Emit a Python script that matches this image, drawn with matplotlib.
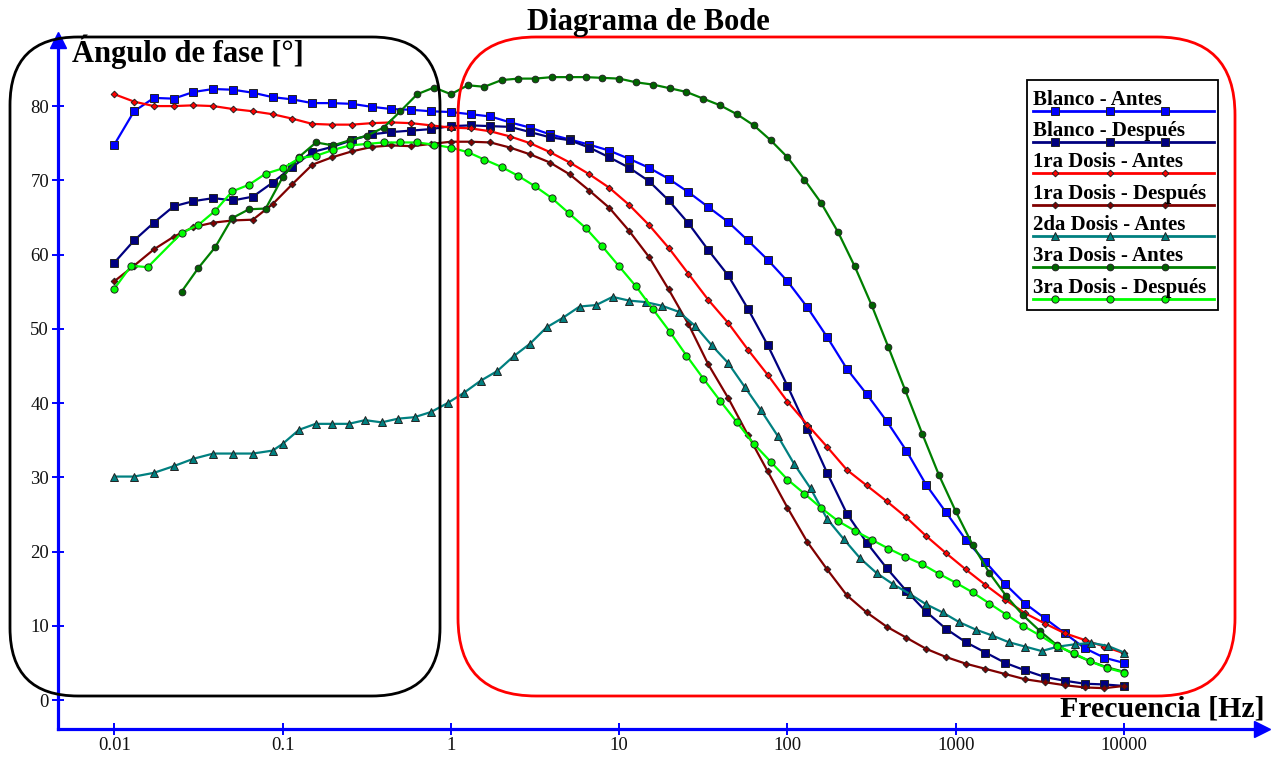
import matplotlib
matplotlib.use('Agg')
import matplotlib.pyplot as plt
from matplotlib.patches import FancyBboxPatch, Rectangle
from matplotlib.lines import Line2D
from matplotlib.ticker import NullLocator

plt.rcParams['font.family'] = ['Liberation Serif', 'DejaVu Serif']

# barridos de frecuencia [Hz]
FREQ_A = [0.01, 0.01311, 0.01719, 0.02254, 0.02955, 0.03875, 0.0508, 0.06661, 0.08733,
          0.1145, 0.1501, 0.1968, 0.2581, 0.3384, 0.4437, 0.5818, 0.7627,
          1.0, 1.311, 1.719, 2.254, 2.955, 3.875, 5.08, 6.661, 8.733,
          11.45, 15.01, 19.68, 25.81, 33.84, 44.37, 58.18, 76.27,
          100, 131.1, 171.9, 225.4, 295.5, 387.5, 508.0, 666.1, 873.3,
          1145, 1501, 1968, 2581, 3384, 4437, 5818, 7627, 10000]
FREQ_B = [0.01, 0.0126, 0.0158, 0.0200, 0.0251, 0.0316, 0.0398, 0.0501, 0.0631, 0.0794,
          0.1, 0.126, 0.158, 0.200, 0.251, 0.316, 0.398, 0.501, 0.631, 0.794,
          1, 1.26, 1.58, 2.00, 2.51, 3.16, 3.98, 5.01, 6.31, 7.94,
          10, 12.6, 15.8, 20.0, 25.1, 31.6, 39.8, 50.1, 63.1, 79.4,
          100, 126, 158, 200, 251, 316, 398, 501, 631, 794,
          1000, 1259, 1585, 1995, 2512, 3162, 3981, 5012, 6310, 7943,
          10000]
FREQ_C = [0.1, 0.1253, 0.1571, 0.1968, 0.2467, 0.3092, 0.3875, 0.4856, 0.6086, 0.7627,
          0.9559, 1.198, 1.501, 1.882, 2.358, 2.955, 3.704, 4.642, 5.818, 7.291,
          9.137, 11.45, 14.35, 17.99, 22.54, 28.25, 35.40, 44.37, 55.60, 69.69,
          87.33, 109.5, 137.2, 171.9, 215.4, 270.0, 338.4, 424.1, 531.5, 666.1,
          834.8, 1046, 1311, 1643, 2059, 2581, 3234, 4054, 5080, 6367,
          7979, 10000]

# angulo de fase [grados]
BLANCO_ANTES = [74.8, 79.3, 81.1, 81.0, 81.9, 82.3, 82.2, 81.8, 81.2, 80.9,
                80.4, 80.4, 80.3, 79.9, 79.6, 79.5, 79.3, 79.2, 78.9, 78.6,
                77.8, 77.1, 76.2, 75.5, 74.8, 74.0, 72.9, 71.7, 70.2, 68.4,
                66.4, 64.4, 61.9, 59.3, 56.4, 52.9, 48.9, 44.6, 41.2, 37.6,
                33.6, 29.0, 25.3, 21.6, 18.6, 15.6, 13.0, 11.0, 9.0, 7.0,
                5.7, 5.0]
BLANCO_DESPUES = [58.9, 61.9, 64.3, 66.5, 67.2, 67.6, 67.3, 67.8, 69.7, 71.8,
                  73.8, 74.5, 75.4, 76.2, 76.5, 76.7, 76.9, 77.3, 77.4, 77.3,
                  77.2, 76.5, 75.8, 75.4, 74.4, 73.1, 71.7, 69.9, 67.3, 64.2,
                  60.6, 57.2, 52.7, 47.8, 42.3, 36.5, 30.6, 25.1, 21.2, 17.8,
                  14.7, 11.9, 9.6, 7.8, 6.4, 5.0, 4.0, 3.1, 2.6, 2.2,
                  2.1, 1.9]
DOSIS1_ANTES = [81.6, 80.6, 80.0, 80.0, 80.1, 80.0, 79.6, 79.3, 78.9, 78.3,
                77.6, 77.5, 77.5, 77.7, 77.8, 77.7, 77.4, 77.1, 77.0, 76.6,
                75.9, 75.0, 73.8, 72.4, 70.8, 69.0, 66.7, 64.0, 60.9, 57.4,
                53.9, 50.8, 47.2, 43.8, 40.2, 37.1, 34.1, 31.0, 28.9, 26.8,
                24.6, 22.1, 19.8, 17.6, 15.5, 13.5, 11.7, 10.3, 9.0, 8.1,
                7.2, 6.3]
DOSIS1_DESPUES = [56.4, 58.5, 60.7, 62.4, 63.7, 64.3, 64.6, 64.7, 66.8, 69.5,
                  72.1, 73.1, 73.9, 74.5, 74.7, 74.6, 74.9, 75.2, 75.2, 75.1,
                  74.4, 73.5, 72.4, 70.8, 68.6, 66.3, 63.2, 59.7, 55.3, 50.6,
                  45.2, 40.7, 35.7, 30.8, 25.9, 21.3, 17.6, 14.1, 11.8, 9.9,
                  8.4, 6.9, 5.8, 4.9, 4.2, 3.5, 2.8, 2.4, 2.0, 1.7,
                  1.6, 1.9]
DOSIS2_ANTES = [30.1, 30.1, 30.6, 31.5, 32.5, 33.2, 33.2, 33.2, 33.6,
                34.5, 36.4, 37.2, 37.2, 37.2, 37.7, 37.4, 37.9, 38.1, 38.8,
                40.0, 41.4, 43.0, 44.3, 46.3, 48.0, 50.2, 51.5, 53.0, 53.2,
                54.3, 53.8, 53.6, 53.1, 52.3, 50.4, 47.8, 45.4, 42.2, 39.0,
                35.6, 31.8, 28.5, 24.4, 21.7, 19.1, 17.1, 15.6, 14.3, 12.9,
                11.8, 10.5, 9.5, 8.7, 7.8, 7.2, 6.6, 7.2, 7.5, 7.7,
                7.3, 6.4]
DOSIS3_ANTES = [55.0, 58.2, 61.0, 64.9, 66.1, 66.2, 70.4, 73.2, 75.1, 74.7,
                75.4, 76.0, 77.1, 79.3, 81.6, 82.5, 81.6, 82.8, 82.6, 83.5,
                83.7, 83.7, 83.9, 83.9, 83.9, 83.8, 83.7, 83.2, 82.9, 82.4,
                81.9, 81.0, 80.1, 78.9, 77.4, 75.4, 73.1, 70.1, 67.0, 63.0,
                58.4, 53.2, 47.5, 41.7, 35.9, 30.3, 25.4, 20.9, 17.1, 14.0,
                11.4, 9.3, 7.4, 6.2, 5.2, 4.4, 3.8]
DOSIS3_DESPUES = [55.4, 58.5, 58.3,
                  62.9, 64.0, 65.9, 68.5, 69.4, 70.9, 71.6, 73.0, 73.3, 74.1,
                  74.7, 74.9, 75.1, 75.1, 75.1, 74.8, 74.4, 73.8, 72.8, 71.8,
                  70.6, 69.2, 67.6, 65.6, 63.6, 61.1, 58.4, 55.7, 52.7, 49.6,
                  46.4, 43.3, 40.3, 37.4, 34.5, 32.1, 29.7, 27.8, 25.9, 24.1,
                  22.8, 21.6, 20.4, 19.3, 18.3, 17.0, 15.8, 14.5, 13.0, 11.5,
                  10.0, 8.7, 7.3, 6.3, 5.2, 4.3, 3.7]

X_TICKS = [0.01, 0.1, 1, 10, 100, 1000, 10000]
X_TICK_LABELS = ['0.01', '0.1', '1', '10', '100', '1000', '10000']
Y_TICKS = [0, 10, 20, 30, 40, 50, 60, 70, 80]

series = [
    ('Blanco - Antes', FREQ_A, BLANCO_ANTES, '#0000FF', 's', 5.2, '#0000FF'),
    ('Blanco - Después', FREQ_A, BLANCO_DESPUES, '#000080', 's', 5.2, '#000080'),
    ('1ra Dosis - Antes', FREQ_A, DOSIS1_ANTES, '#FF0000', 'D', 3.4, '#FF0000'),
    ('1ra Dosis - Después', FREQ_A, DOSIS1_DESPUES, '#800000', 'D', 3.4, '#800000'),
    ('2da Dosis - Antes', FREQ_A[:9] + FREQ_C, DOSIS2_ANTES, '#008080', '^', 5.2, '#008080'),
    ('3ra Dosis - Antes', FREQ_B[4:], DOSIS3_ANTES, '#008000', 'o', 4.8, '#006400'),
    ('3ra Dosis - Después', FREQ_B[:3] + FREQ_B[4:], DOSIS3_DESPUES, '#00FF00', 'o', 5.2, '#00FF00'),
]

W, H = 1273, 757
fig = plt.figure(figsize=(W / 100, H / 100), dpi=100)

def fx(px):
    return px / W

def fy(py):
    return 1 - py / H

ax = fig.add_axes([fx(58), fy(729), (1262 - 58) / W, (729 - 40) / H])

for label, f, v, c, m, ms, mfc in series:
    ax.plot(f, v, color=c, lw=1.6, marker=m, ms=ms, mfc=mfc,
            mec='#222222', mew=0.7, zorder=3)

ax.set_xscale('log')
ax.set_xlim(0.00463, 65970)
ax.set_ylim(-3.9, 88.9)
ax.set_xticks(X_TICKS)
ax.set_xticklabels(X_TICK_LABELS)
ax.xaxis.set_minor_locator(NullLocator())
ax.set_yticks(Y_TICKS)

for s in ['top', 'right']:
    ax.spines[s].set_visible(False)
for s in ['left', 'bottom']:
    ax.spines[s].set_color('blue')
    ax.spines[s].set_linewidth(2.3)
ax.tick_params(axis='both', direction='inout', length=8.5, width=1.4,
               color='blue', labelsize=13.5, labelcolor='#111111')
ax.tick_params(axis='y', pad=2.2)
ax.tick_params(axis='x', pad=1.2)
ax.patch.set_visible(False)

# flechas de los ejes
ax.plot([1], [0], marker='>', ms=11, color='blue', transform=ax.transAxes, clip_on=False)
ax.plot([0], [1], marker='^', ms=11, color='blue', transform=ax.transAxes, clip_on=False)

# recuadros redondeados
inch = fig.dpi_scale_trans
fig.add_artist(FancyBboxPatch((0.10, (H - 696) / 100), 4.30, 6.59,
                              boxstyle='round,pad=0,rounding_size=0.68',
                              fill=False, ec='black', lw=2.0,
                              transform=inch, zorder=4))
fig.add_artist(FancyBboxPatch((4.58, (H - 696) / 100), 7.77, 6.59,
                              boxstyle='round,pad=0,rounding_size=0.78',
                              fill=False, ec='red', lw=2.0,
                              transform=inch, zorder=4))

# leyenda
fig.add_artist(Rectangle((fx(1027), fy(310)), (1218 - 1027) / W, (310 - 80) / H,
                         transform=fig.transFigure, fc='white', ec='black',
                         lw=1.3, zorder=6))
for i, (label, f, v, c, m, ms, mfc) in enumerate(series):
    ly = 110.7 + 31.3 * i
    fig.text(fx(1033), fy(ly - 6), label, fontsize=15, fontweight='bold',
             ha='left', va='baseline', zorder=7)
    xs = [fx(p) for p in (1033, 1055, 1110, 1165, 1214)]
    fig.add_artist(Line2D(xs, [fy(ly)] * 5, transform=fig.transFigure,
                          color=c, lw=2, marker=m, ms=ms, mfc=mfc,
                          mec='#222222', mew=0.7, markevery=[1, 2, 3], zorder=7))

fig.text(fx(648), fy(30), 'Diagrama de Bode', fontsize=22, fontweight='bold',
         ha='center', va='baseline', zorder=8)
fig.text(fx(72), fy(62), 'Ángulo de fase [°]', fontsize=22, fontweight='bold',
         ha='left', va='baseline', zorder=8)
fig.text(fx(1265), fy(716), 'Frecuencia [Hz]', fontsize=21.5, fontweight='bold',
         ha='right', va='baseline', zorder=8)

fig.savefig('out.png', dpi=100, facecolor='white')
